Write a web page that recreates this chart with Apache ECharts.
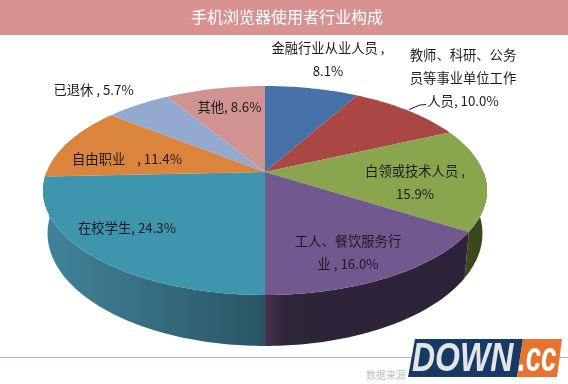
<!DOCTYPE html>
<html>
<head>
<meta charset="utf-8">
<title>手机浏览器使用者行业构成</title>
<style>
  html, body { margin: 0; padding: 0; background: #fff; }
  #chart { width: 568px; height: 384px; }
</style>
</head>
<body>
<div id="chart"></div>
<script src="https://cdn.jsdelivr.net/npm/echarts@6/dist/echarts.min.js"></script>
<script>
const TITLE = '手机浏览器使用者行业构成';
const categories = ['金融行业从业人员', '教师、科研、公务员等事业单位工作人员', '白领或技术人员', '工人、餐饮服务行业', '在校学生', '自由职业', '已退休', '其他'];
const shares = [8.1, 10.0, 15.9, 16.0, 24.3, 11.4, 5.7, 8.6];
const sliceLabels = [
    '金融行业从业人员 ,\n8.1%',
    '教师、科研、公务\n员等事业单位工作\n人员, 10.0%',
    '白领或技术人员 ,\n15.9%',
    '工人、餐饮服务行\n业 , 16.0%',
    '在校学生, 24.3%',
    '自由职业    , 11.4%',
    '已退休 , 5.7%',
    '其他, 8.6%'
];
const topColors = ['#4672A8', '#AA4643', '#89A54E', '#71588F', '#3E96AE', '#DB843D', '#93A9CF', '#D19392'];
// 侧面渐变: 左, 近左, 右
const sideColors = [
    ['#2E4C70', '#2E4C70', '#2E4C70'], ['#6E2E2C', '#6E2E2C', '#6E2E2C'], ['#3E4C1E', '#3B481C', '#39461C'], ['#453050', '#2F2539', '#2C2339'],
    ['#3F8299', '#3E7F95', '#2A5564'], ['#8F5527', '#8F5527', '#8F5527'], ['#5F6E87', '#5F6E87', '#5F6E87'], ['#885F5E', '#885F5E', '#885F5E']
];
// 标签中心位置
const labelCenters = [[328, 59.5], [463, 78], [415, 182.5], [348, 252.5], [127, 228], [127, 159], [93.5, 90], [229.5, 107]];

// 透视椭圆参数
const CX = 265;
const TOP_FACE = { y: 172, a: 218.5, b: 101.2 };
const BOTTOM_FACE = { y: 213.5, a: 214, b: 109 };
const K = 0.177;

function project(face, deg) {
    const t = deg * Math.PI / 180;
    const d = 1 + K * Math.cos(t);
    return [CX + face.a * Math.sin(t) / d, face.y - face.b * Math.cos(t) / d];
}

function arc(face, from, to) {
    const pts = [];
    const steps = Math.max(2, Math.ceil(Math.abs(to - from)));
    for (let i = 0; i <= steps; i++) {
        pts.push(project(face, from + (to - from) * i / steps));
    }
    return pts;
}

let acc = 0;
const sliceData = shares.map((v) => {
    const start = acc * 3.6;
    acc += v;
    return [start, acc * 3.6];
});

function renderSide(params, api) {
    const from = Math.max(api.value(0), 90);
    const to = Math.min(api.value(1), 270);
    if (to <= from) {
        return { type: 'group', children: [] };
    }
    const pts = arc(TOP_FACE, from, to).concat(arc(BOTTOM_FACE, to, from));
    const c = sideColors[params.dataIndex];
    return {
        type: 'polygon',
        shape: { points: pts },
        style: {
            fill: new echarts.graphic.LinearGradient(0, 0, 1, 0, [
                { offset: 0, color: c[0] },
                { offset: 0.1, color: c[1] },
                { offset: 1, color: c[2] }
            ])
        }
    };
}

function renderTop(params, api) {
    const pts = [[CX, TOP_FACE.y]].concat(arc(TOP_FACE, api.value(0), api.value(1)));
    return {
        type: 'polygon',
        shape: { points: pts },
        style: { fill: topColors[params.dataIndex] }
    };
}

const labelGraphics = sliceLabels.map((text, i) => ({
    type: 'text',
    z: 20,
    style: {
        text: text,
        x: labelCenters[i][0],
        y: labelCenters[i][1],
        align: 'center',
        verticalAlign: 'middle',
        lineHeight: 23,
        fill: '#1c1c1c',
        font: '13.3px "Noto Sans CJK SC"'
    }
}));

const chart = echarts.init(document.getElementById('chart'), null, { renderer: 'canvas' });
chart.setOption({
    animation: false,
    backgroundColor: '#fff',
    title: {
        text: TITLE,
        left: 191,
        top: 7,
        padding: 0,
        textStyle: { color: '#fff', fontSize: 16, fontWeight: 'normal', fontFamily: '"Noto Sans CJK SC"', lineHeight: 20 },
        z: 12
    },
    graphic: [
        { type: 'rect', z: 1, shape: { x: 0, y: 0, width: 568, height: 35 }, style: { fill: '#D89292' } },
        { type: 'rect', z: 1, shape: { x: 0, y: 357, width: 568, height: 1 }, style: { fill: '#E8A09B' } },
        { type: 'polyline', z: 20, shape: { points: [[409, 109.5], [420, 105], [426, 104.5]] }, style: { stroke: '#1c1c1c', lineWidth: 1, fill: null } },
        { type: 'text', z: 20, style: { text: '数据来源', x: 366, y: 375, verticalAlign: 'middle', fill: '#bdbdbd', font: '10px "Noto Sans CJK SC"' } },
        { type: 'polygon', z: 30, shape: { points: [[415, 339], [523, 339], [517, 377], [408, 377]] }, style: { fill: '#163A64' } },
        { type: 'polygon', z: 30, shape: { points: [[523, 339], [562, 339], [557, 377], [517, 377]] }, style: { fill: '#E8722F' } },
        {
            type: 'text', z: 31, x: 412, y: 359.5, scaleX: 0.8,
            style: { text: 'DOWN', x: 0, y: 0, verticalAlign: 'middle', fill: '#E4E5E7', font: 'italic bold 40px "Liberation Sans"' }
        },
        {
            type: 'text', z: 31, x: 518, y: 359.5, scaleX: 0.66,
            style: { text: '.cc', x: 0, y: 0, verticalAlign: 'middle', fill: '#fff', font: 'italic bold 42px "Liberation Sans"' }
        }
    ].concat(labelGraphics),
    series: [
        { type: 'custom', coordinateSystem: 'none', silent: true, z: 2, data: sliceData, renderItem: renderSide },
        { type: 'custom', coordinateSystem: 'none', silent: true, z: 3, data: sliceData, renderItem: renderTop }
    ]
});
</script>
</body>
</html>
